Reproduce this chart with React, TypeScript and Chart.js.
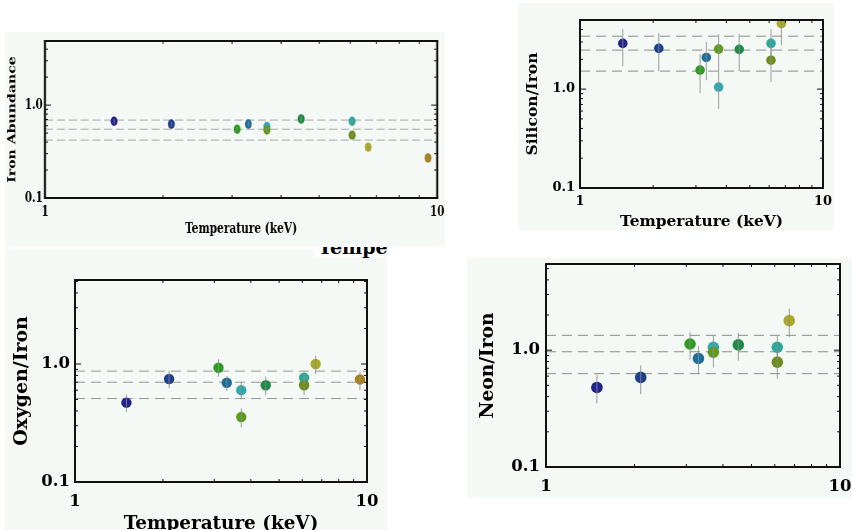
import React, { useEffect, useRef } from "react";
import { Chart, registerables } from "chart.js";

Chart.register(...registerables);

// Colour of each cluster, shared by all four panels
const CLUSTER_COLORS = [
  "#22228e", "#1d3f8e", "#2f9b22", "#1f6e9a", "#31a9b1", "#5e9b1b",
  "#1f8b48", "#2ba99a", "#6f8d1d", "#aba927", "#a9811f",
];

// Axis ticks
const X_TICKS = [1, 10];
const X_TICK_LABELS = ["1", "10"];
const X_MINOR = [2, 3, 4, 5, 6, 7, 8, 9];
const Y_TICKS = [0.1, 1];
const Y_TICK_LABELS = ["0.1", "1.0"];
const Y_MINOR = [0.2, 0.3, 0.4, 0.5, 0.6, 0.7, 0.8, 0.9, 2, 3, 4, 5];

// Iron abundance
const IRON_T = [1.5, 2.1, 3.09, 3.3, 3.68, 3.68, 4.5, 6.07, 6.07, 6.67, 9.48];
const IRON_V = [0.67, 0.625, 0.55, 0.625, 0.59, 0.54, 0.71, 0.67, 0.475, 0.353, 0.27];
const IRON_LO = [0.63, 0.59, 0.52, 0.59, 0.56, 0.51, 0.67, 0.63, 0.45, 0.335, 0.255];
const IRON_HI = [0.71, 0.66, 0.58, 0.66, 0.62, 0.57, 0.75, 0.71, 0.5, 0.372, 0.285];
const IRON_C = [0, 1, 2, 3, 4, 5, 6, 7, 8, 9, 10];
const IRON_REF = [0.69, 0.55, 0.42];

// Silicon / iron
const SI_T = [1.5, 2.11, 3.12, 3.31, 3.72, 3.72, 4.52, 6.11, 6.11, 6.74];
const SI_V = [2.9, 2.58, 1.56, 2.09, 2.54, 1.05, 2.52, 2.9, 1.96, 4.61];
const SI_LO = [1.71, 1.52, 0.91, 1.23, 1.6, 0.63, 1.52, 2.05, 1.18, 2.78];
const SI_HI = [4.04, 3.68, 2.26, 2.98, 3.6, 1.6, 3.6, 4.04, 2.75, 6.5];
const SI_C = [0, 1, 2, 3, 5, 4, 6, 7, 8, 9];
const SI_REF = [3.43, 2.48, 1.52];

// Oxygen / iron
const O_T = [1.5, 2.1, 3.1, 3.31, 3.71, 3.71, 4.5, 6.09, 6.09, 6.67, 9.46];
const O_V = [0.47, 0.746, 0.93, 0.694, 0.6, 0.355, 0.66, 0.765, 0.66, 1.0, 0.74];
const O_LO = [0.39, 0.626, 0.78, 0.59, 0.5, 0.29, 0.545, 0.68, 0.545, 0.82, 0.6];
const O_HI = [0.55, 0.877, 1.1, 0.79, 0.71, 0.42, 0.78, 0.86, 0.76, 1.17, 0.86];
const O_C = [0, 1, 2, 3, 4, 5, 6, 7, 8, 9, 10];
const O_REF = [0.87, 0.7, 0.51];

// Neon / iron
const NE_T = [1.49, 2.1, 3.09, 3.3, 3.71, 3.71, 4.51, 6.12, 6.12, 6.72];
const NE_V = [0.48, 0.585, 1.13, 0.85, 1.06, 0.96, 1.11, 1.06, 0.79, 1.79];
const NE_LO = [0.35, 0.42, 0.83, 0.63, 0.85, 0.71, 0.81, 0.85, 0.57, 1.29];
const NE_HI = [0.62, 0.74, 1.43, 1.08, 1.33, 1.2, 1.4, 1.34, 1.0, 2.26];
const NE_C = [0, 1, 2, 3, 4, 5, 6, 7, 8, 9];
const NE_REF = [1.34, 0.97, 0.63];

const BOX_BG = "#f4f9f5";
const SERIF = "'DejaVu Serif', serif";

type PanelCfg = {
  box: { x: number; y: number; w: number; h: number };
  cw: number;
  ch: number;
  sx: number;
  padTop: number;
  padRight: number;
  yWidth: number;
  xHeight: number;
  yMax: number;
  yTitle: string;
  xTitle: string | null;
  tickSize: number;
  yTitleSize: number;
  xTitleSize: number;
  yTickPad: number;
  xTickPad: number;
  yTitlePad: number;
  xTitlePad: number;
  radius: number;
  dash: number[];
  dashColor: string;
  t: number[];
  v: number[];
  lo: number[];
  hi: number[];
  c: number[];
  ref: number[];
};

// Error bars, frame and inward tick marks
const axisFrame = {
  id: "axisFrame",
  afterDatasetsDraw(chart: any, _args: any, opts: any) {
    const { ctx, chartArea: a } = chart;
    const xs = chart.scales.x;
    const ys = chart.scales.y;
    const sx = opts.sx || 1;

    ctx.save();
    ctx.beginPath();
    ctx.rect(a.left, a.top, a.right - a.left, a.bottom - a.top);
    ctx.clip();
    ctx.strokeStyle = "rgba(140,140,140,0.85)";
    ctx.lineWidth = 1 / sx;
    opts.t.forEach((t: number, i: number) => {
      const px = xs.getPixelForValue(t);
      ctx.beginPath();
      ctx.moveTo(px, ys.getPixelForValue(opts.lo[i]));
      ctx.lineTo(px, ys.getPixelForValue(opts.hi[i]));
      ctx.stroke();
    });
    ctx.restore();

    ctx.save();
    ctx.strokeStyle = "#111";
    ctx.lineWidth = 2;
    ctx.beginPath();
    ctx.moveTo(a.left - 1 / sx, a.top);
    ctx.lineTo(a.right + 1 / sx, a.top);
    ctx.moveTo(a.left - 1 / sx, a.bottom);
    ctx.lineTo(a.right + 1 / sx, a.bottom);
    ctx.stroke();
    ctx.lineWidth = 2 / sx;
    ctx.beginPath();
    ctx.moveTo(a.left, a.top);
    ctx.lineTo(a.left, a.bottom);
    ctx.moveTo(a.right, a.top);
    ctx.lineTo(a.right, a.bottom);
    ctx.stroke();

    ctx.lineWidth = 1;
    ctx.beginPath();
    const yTicks = [...Y_TICKS.map((v) => [v, 6]), ...Y_MINOR.map((v) => [v, 3])];
    yTicks.forEach(([v, len]) => {
      if (v > ys.max || v < ys.min) return;
      const py = ys.getPixelForValue(v);
      ctx.moveTo(a.left, py);
      ctx.lineTo(a.left + len / sx, py);
      ctx.moveTo(a.right, py);
      ctx.lineTo(a.right - len / sx, py);
    });
    ctx.stroke();
    ctx.lineWidth = 1 / sx;
    ctx.beginPath();
    X_MINOR.forEach((v) => {
      const px = xs.getPixelForValue(v);
      ctx.moveTo(px, a.bottom);
      ctx.lineTo(px, a.bottom - 3);
      ctx.moveTo(px, a.top);
      ctx.lineTo(px, a.top + 3);
    });
    ctx.stroke();
    ctx.restore();
  },
};

const PANELS: PanelCfg[] = [
  {
    box: { x: 5, y: 32, w: 440, h: 214 },
    cw: 595, ch: 214, sx: 0.74,
    padTop: 9, padRight: 11, yWidth: 54, xHeight: 48, yMax: 4.9,
    yTitle: "Iron Abundance", xTitle: "Temperature (keV)",
    tickSize: 14, yTitleSize: 14.1, xTitleSize: 14.3,
    yTickPad: 3, xTickPad: 6, yTitlePad: 2.3, xTitlePad: 9,
    radius: 4.7, dash: [11, 5], dashColor: "#a8a8a8",
    t: IRON_T, v: IRON_V, lo: IRON_LO, hi: IRON_HI, c: IRON_C, ref: IRON_REF,
  },
  {
    box: { x: 518, y: 3, w: 316, h: 227 },
    cw: 316, ch: 227, sx: 1,
    padTop: 17, padRight: 11, yWidth: 62, xHeight: 42, yMax: 5,
    yTitle: "Silicon/Iron", xTitle: "Temperature (keV)",
    tickSize: 13, yTitleSize: 15.6, xTitleSize: 15.4,
    yTickPad: 5, xTickPad: 6, yTitlePad: 5.6, xTitlePad: 0,
    radius: 4.8, dash: [10, 6], dashColor: "#8c8c8c",
    t: SI_T, v: SI_V, lo: SI_LO, hi: SI_HI, c: SI_C, ref: SI_REF,
  },
  {
    box: { x: 5, y: 250, w: 382, h: 290 },
    cw: 382, ch: 290, sx: 1,
    padTop: 30, padRight: 20, yWidth: 70, xHeight: 58, yMax: 5.15,
    yTitle: "Oxygen/Iron", xTitle: "Temperature (keV)",
    tickSize: 16.5, yTitleSize: 18.9, xTitleSize: 18.4,
    yTickPad: 5, xTickPad: 10, yTitlePad: 5.4, xTitlePad: 5.5,
    radius: 5.2, dash: [10, 6], dashColor: "#999999",
    t: O_T, v: O_V, lo: O_LO, hi: O_HI, c: O_C, ref: O_REF,
  },
  {
    box: { x: 467, y: 258, w: 393, h: 240 },
    cw: 393, ch: 240, sx: 1,
    padTop: 6, padRight: 20, yWidth: 79, xHeight: 31, yMax: 5.47,
    yTitle: "Neon/Iron", xTitle: null,
    tickSize: 16.5, yTitleSize: 18.6, xTitleSize: 16,
    yTickPad: 6, xTickPad: 10, yTitlePad: 10.1, xTitlePad: 0,
    radius: 5.8, dash: [10, 6], dashColor: "#8c8c8c",
    t: NE_T, v: NE_V, lo: NE_LO, hi: NE_HI, c: NE_C, ref: NE_REF,
  },
];

function Panel({ cfg }: { cfg: PanelCfg }) {
  const ref = useRef<HTMLCanvasElement>(null);

  useEffect(() => {
    const tickFont = { family: SERIF, weight: "bold" as const, size: cfg.tickSize, lineHeight: 1.2 };
    const chart = new Chart(ref.current as HTMLCanvasElement, {
      type: "scatter",
      data: {
        datasets: [
          {
            type: "scatter",
            data: cfg.t.map((t, i) => ({ x: t, y: cfg.v[i] })),
            pointBackgroundColor: cfg.c.map((k) => CLUSTER_COLORS[k]),
            pointBorderWidth: 0,
            pointRadius: cfg.radius,
            clip: false,
            order: 0,
          } as any,
          ...cfg.ref.map((r) => ({
            type: "line",
            data: [{ x: 1, y: r }, { x: 10, y: r }],
            borderColor: cfg.dashColor,
            borderWidth: 1,
            borderDash: cfg.dash,
            pointRadius: 0,
            order: 1,
          })) as any[],
        ],
      },
      options: {
        responsive: false,
        animation: false,
        devicePixelRatio: 1,
        events: [],
        layout: { padding: { left: 0, top: cfg.padTop, right: cfg.padRight, bottom: 0 } },
        plugins: {
          legend: { display: false },
          tooltip: { enabled: false },
          axisFrame: { sx: cfg.sx, t: cfg.t, lo: cfg.lo, hi: cfg.hi },
        } as any,
        scales: {
          x: {
            type: "logarithmic",
            position: "bottom",
            min: 1,
            max: 10,
            bounds: "data",
            grid: { display: false, drawTicks: false },
            border: { display: false },
            afterBuildTicks: (s: any) => {
              s.ticks = X_TICKS.map((v) => ({ value: v }));
            },
            afterFit: (s: any) => {
              s.height = cfg.xHeight;
              s.paddingLeft = 0;
              s.paddingRight = 0;
            },
            ticks: {
              padding: cfg.xTickPad,
              color: "#000",
              font: tickFont,
              autoSkip: false,
              maxRotation: 0,
              callback: (_v: any, i: number) => X_TICK_LABELS[i],
            },
            title: {
              display: !!cfg.xTitle,
              text: cfg.xTitle || "",
              color: "#000",
              font: { family: SERIF, weight: "bold", size: cfg.xTitleSize, lineHeight: 1.1 },
              padding: { top: 0, bottom: cfg.xTitlePad },
            },
          },
          y: {
            type: "logarithmic",
            position: "left",
            min: 0.1,
            max: cfg.yMax,
            bounds: "data",
            grid: { display: false, drawTicks: false },
            border: { display: false },
            afterBuildTicks: (s: any) => {
              s.ticks = Y_TICKS.map((v) => ({ value: v }));
            },
            afterFit: (s: any) => {
              s.width = cfg.yWidth;
              s.paddingTop = 0;
              s.paddingBottom = 0;
            },
            ticks: {
              padding: cfg.yTickPad,
              color: "#000",
              font: tickFont,
              autoSkip: false,
              callback: (_v: any, i: number) => Y_TICK_LABELS[i],
            },
            title: {
              display: true,
              text: cfg.yTitle,
              color: "#000",
              font: { family: SERIF, weight: "bold", size: cfg.yTitleSize, lineHeight: 1.2 },
              padding: { top: cfg.yTitlePad, bottom: 0 },
            },
          },
        } as any,
      },
      plugins: [axisFrame],
    });
    return () => chart.destroy();
  }, [cfg]);

  return (
    <div
      style={{
        position: "absolute",
        left: cfg.box.x,
        top: cfg.box.y,
        width: cfg.box.w,
        height: cfg.box.h,
        background: BOX_BG,
        overflow: "hidden",
      }}
    >
      <canvas
        ref={ref}
        width={cfg.cw}
        height={cfg.ch}
        style={{
          position: "absolute",
          left: 0,
          top: 0,
          width: cfg.cw,
          height: cfg.ch,
          transform: `scaleX(${cfg.sx})`,
          transformOrigin: "0 0",
        }}
      />
    </div>
  );
}

export default function App() {
  return (
    <div
      style={{
        position: "fixed",
        left: 0,
        top: 0,
        width: 852,
        height: 530,
        overflow: "hidden",
        background: "#ffffff",
      }}
    >
      {PANELS.map((p, i) => (
        <Panel key={i} cfg={p} />
      ))}
      <div
        style={{
          position: "absolute",
          left: 314,
          top: 247,
          width: 74,
          height: 11,
          background: "#ffffff",
          overflow: "hidden",
        }}
      >
        <div
          style={{
            position: "absolute",
            left: 4,
            top: -10,
            whiteSpace: "nowrap",
            fontFamily: SERIF,
            fontWeight: "bold",
            fontSize: 19,
            lineHeight: "20px",
            color: "#000",
          }}
        >
          Temperature (keV)
        </div>
      </div>
    </div>
  );
}
